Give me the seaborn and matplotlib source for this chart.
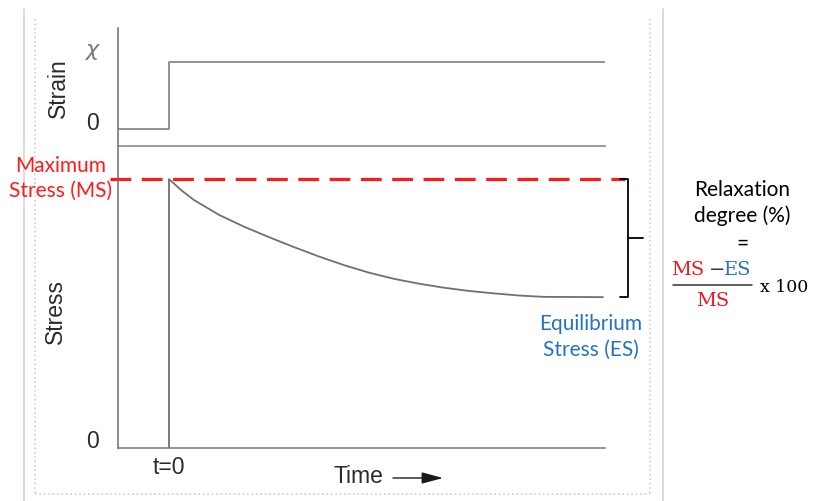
import matplotlib
matplotlib.use("Agg")
import matplotlib.pyplot as plt
from matplotlib.lines import Line2D
import pandas as pd
import seaborn as sns

# ---- data ----
strain_t = [-1.02, 0.0, 0.0, 8.72]
strain_val = [0.0, 0.0, 1.0, 1.0]

stress_t = [0.0, 0.0, 0.25, 0.5, 1.0, 1.5, 2.0, 2.5, 3.0, 3.5, 4.0, 4.5, 5.0, 5.5, 6.0, 6.5, 7.0, 7.5, 8.68]
stress_val = [0.0, 100.0, 95.8, 92.2, 86.7, 82.3, 78.4, 74.7, 71.2, 68.0, 65.2, 62.9, 61.1, 59.6, 58.4, 57.5, 56.7, 56.2, 56.1]

max_stress = 100.0
eq_stress = 56.1
strain_ticks = [0.0, 1.0]

W, H = 813, 502
sns.set_style("white")
plt.rcParams["font.family"] = ["Liberation Sans", "DejaVu Sans"]

fig = plt.figure(figsize=(W / 100, H / 100), dpi=100)


def fx(px):
    return px / W


def fy(py):
    return 1 - py / H


# page frame decorations
frame = [
    ([24, 24], [10, 502], "-", "#d4d4d4"),
    ([663, 663], [10, 502], "-", "#d4d4d4"),
    ([35, 35], [20, 495], ":", "#cfcfcf"),
    ([650, 650], [20, 495], ":", "#cfcfcf"),
    ([35, 650], [495, 495], ":", "#cfcfcf"),
]
for xs, ys, ls, c in frame:
    fig.add_artist(Line2D([fx(v) for v in xs], [fy(v) for v in ys], ls=ls, color=c, lw=1.2))

ax_left, ax_right = 118, 605
ax_strain = fig.add_axes([fx(ax_left), fy(147), (ax_right - ax_left) / W, (147 - 29) / H])
ax_stress = fig.add_axes([fx(ax_left), fy(449), (ax_right - ax_left) / W, (449 - 147) / H])

df_strain = pd.DataFrame({"t": strain_t, "strain": strain_val})
df_stress = pd.DataFrame({"t": stress_t, "stress": stress_val})

sns.lineplot(data=df_strain, x="t", y="strain", ax=ax_strain, estimator=None, sort=False,
             color="#8a8a8a", lw=1.3)
sns.lineplot(data=df_stress, x="t", y="stress", ax=ax_stress, estimator=None, sort=False,
             color="#707070", lw=1.3)

ax_strain.set_xlim(-1.02, 8.72)
ax_strain.set_ylim(-0.254, 1.507)
ax_stress.set_xlim(-1.02, 8.72)
ax_stress.set_ylim(0, 112.3)

for ax in (ax_strain, ax_stress):
    ax.set_facecolor("none")
    ax.set_xlabel("")
    ax.set_ylabel("")
    ax.set_xticks([])
    for s in ("top", "right"):
        ax.spines[s].set_visible(False)
    ax.spines["left"].set_color("#6e6e6e")
    ax.spines["left"].set_linewidth(1.1)

ax_strain.spines["bottom"].set_color("#94a394")
ax_strain.spines["bottom"].set_linewidth(1.4)
ax_stress.spines["bottom"].set_color("#777777")
ax_stress.spines["bottom"].set_linewidth(1.1)

ax_strain.set_yticks(strain_ticks)
ax_strain.set_yticklabels([])
ax_strain.tick_params(axis="y", direction="out", length=11, width=1.2, color="#bdbdbd")
ax_stress.set_yticks([])

# max stress dashed line and bracket
ax_stress.axhline(max_stress, xmin=(110 - ax_left) / (ax_right - ax_left),
                  xmax=(625 - ax_left) / (ax_right - ax_left), color="#ff1a1a",
                  lw=2.3, ls=(0, (6.5, 3.3)), clip_on=False)
bx0, bx1, bx2 = 9.02, 9.18, 9.48
ax_stress.plot([bx0, bx1, bx1, bx0], [max_stress, max_stress, eq_stress, eq_stress],
               color="black", lw=1.3, clip_on=False)
mid = (max_stress + eq_stress) / 2
ax_stress.plot([bx1, bx2], [mid, mid], color="black", lw=1.3, clip_on=False)

# axis texts
axis_kw = dict(color="#2b2b2b", fontsize=16.5, family=["Liberation Sans", "DejaVu Sans"])
fig.text(fx(58), fy(88), "Strain", rotation=90, ha="center", va="center", **axis_kw)
fig.text(fx(55), fy(312), "Stress", rotation=90, ha="center", va="center", **axis_kw)
fig.text(fx(92), fy(124), "0", ha="center", va="center", **axis_kw)
fig.text(fx(92), fy(442), "0", ha="center", va="center", **axis_kw)
fig.text(fx(169), fy(468), "t=0", ha="center", va="center", **axis_kw)
fig.text(fx(358), fy(477), "Time", ha="center", va="center", **axis_kw)
fig.text(fx(93), fy(51), "$\\chi$", ha="center", va="center", color="#777777", fontsize=16)
fig.add_artist(plt.Annotation("", xy=(fx(443), fy(479)), xytext=(fx(393), fy(479)),
                              xycoords="figure fraction", textcoords="figure fraction",
                              arrowprops=dict(arrowstyle="-|>,head_length=1.3,head_width=0.35",
                                              color="#1a1a1a", lw=1.0, shrinkA=0, shrinkB=0)))

# annotations
lab_kw = dict(fontsize=15, family=["Lato", "DejaVu Sans"], ha="center", va="center")
fig.text(fx(61), fy(166), "Maximum", color="#ff1a1a", **lab_kw)
fig.text(fx(61), fy(191), "Stress (MS)", color="#ff1a1a", **lab_kw)
fig.text(fx(591), fy(324), "Equilibrium", color="#2472c0", **lab_kw)
fig.text(fx(591), fy(350), "Stress (ES)", color="#2472c0", **lab_kw)
fig.text(fx(742), fy(190), "Relaxation", color="black", **lab_kw)
fig.text(fx(742), fy(216), "degree (%)", color="black", **lab_kw)
fig.text(fx(742), fy(244), "=", color="black", **lab_kw)

ser_kw = dict(fontsize=14, family=["DejaVu Serif"], va="center")
fig.text(fx(688), fy(270), "MS", color="#e8191e", ha="center", **ser_kw)
fig.text(fx(717), fy(270), "\u2212", color="#333333", ha="center", **ser_kw)
fig.text(fx(738), fy(270), "ES", color="#2472c0", ha="center", **ser_kw)
fig.text(fx(713), fy(301), "MS", color="#e8191e", ha="center", **ser_kw)
fig.add_artist(Line2D([fx(673), fx(752)], [fy(286), fy(286)], color="#333333", lw=1.1))
fig.text(fx(808), fy(287), "x 100", color="black", ha="right", fontsize=12.5,
         family=["DejaVu Serif"], va="center")

fig.savefig("out.png", dpi=100)
